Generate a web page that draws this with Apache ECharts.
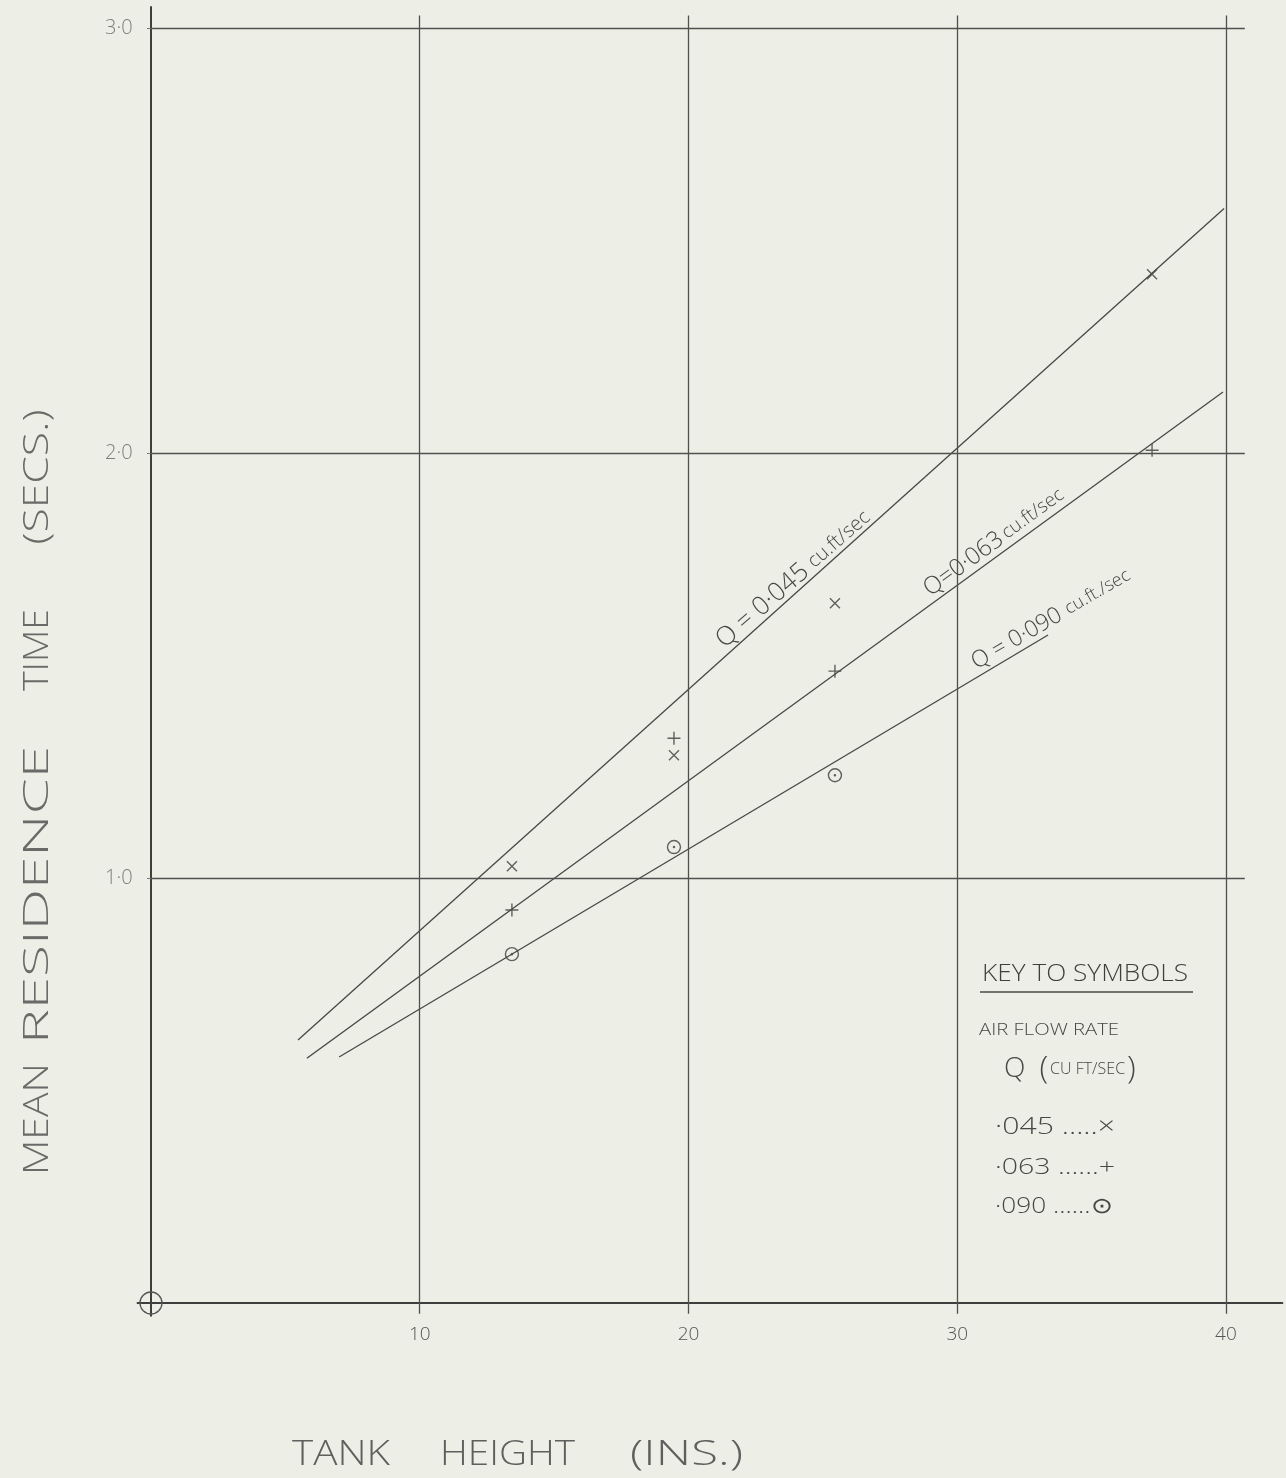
<!DOCTYPE html>
<html><head><meta charset="utf-8">
<script src="https://cdn.jsdelivr.net/npm/echarts@6/dist/echarts.min.js"></script>
<style>html,body{margin:0;padding:0;background:#edefe6}#c{width:1286px;height:1478px}</style>
</head><body><div id="c"></div>
<script>
// ---- data ----
const xTicks = [10, 20, 30, 40];
const yTicks = [1, 2, 3];
// measured points, tank height (ins) vs mean residence time (secs)
const q045 = [[13.43, 1.028], [19.46, 1.289], [25.45, 1.647], [37.25, 2.421]];
const q063 = [[13.43, 0.925], [19.46, 1.329], [25.45, 1.487], [37.25, 2.007]];
const q090 = [[13.43, 0.821], [19.46, 1.073], [25.45, 1.242]];
// hand-fitted straight lines (end points)
const fit045 = [[5.47, 0.619], [39.93, 2.576]];
const fit063 = [[5.80, 0.576], [39.89, 2.144]];
const fit090 = [[7.0, 0.579], [33.38, 1.572]];
const keyRows = ['·045 .....×', '·063 ......+', '·090 ......⊙'];
const yTitleWords = ['MEAN', 'RESIDENCE', 'TIME', '(SECS.)'];
const xTitleWords = ['TANK', 'HEIGHT', '(INS.)'];

const INK = '#474745';
const FF = '"Open Sans", "DejaVu Sans", sans-serif';
const LIGHT = '300 ';

const mctx = document.createElement('canvas').getContext('2d');
function stretch(text, font, target) { mctx.font = font; return target / mctx.measureText(text).width; }

const chart = echarts.init(document.getElementById('c'), null, {renderer: 'canvas'});

const grid = {left: 137.56, right: 3.6, top: 7, bottom: 162.25};
const gx = [];
xTicks.forEach(v => gx.push([{coord: [v, -0.025]}, {coord: [v, 3.03]}]));
yTicks.forEach(v => gx.push([{coord: [0, v]}, {coord: [40.7, v]}]));

const SYM_X = 'path://M0,0L10,10M10,0L0,10';
const SYM_P = 'path://M5,0L5,10M0,5L10,5';
const SYM_O = 'path://M0,5A5,5 0 1,1 10,5A5,5 0 1,1 0,5ZM4.55,5A0.45,0.45 0 1,1 5.45,5A0.45,0.45 0 1,1 4.55,5Z';
const SYM_ORIGIN = 'path://M0,10A10,10 0 1,1 20,10A10,10 0 1,1 0,10Z';

function lineLabel(coord, rot, txt, a, b) {
  return {
    coord: coord,
    symbol: 'circle', symbolSize: 1,
    itemStyle: {color: 'transparent'},
    label: {
      show: true, position: 'inside', rotate: rot,
      formatter: txt,
      rich: {
        a: {fontSize: a, fontFamily: FF, fontWeight: 300, color: INK},
        b: {fontSize: b, fontFamily: FF, fontWeight: 300, color: INK}
      }
    }
  };
}

const markerStyle = {color: 'none', borderColor: '#3c3c3a', borderWidth: 1.4};

// axis title pieces, stretched to the hand-lettered lengths
const yT = [[1119, 112], [895, 298], [650, 82], [477, 135]];
const xT = [[292, 98], [440, 135], [630, 113]];
const titleFont = LIGHT + '35px ' + FF;
const titleGraphics = [];
yTitleWords.forEach((w, i) => titleGraphics.push({
  type: 'text', x: 38, y: yT[i][0], rotation: Math.PI / 2, scaleX: stretch(w, titleFont, yT[i][1]), silent: true,
  style: {text: w, font: titleFont, fill: '#6a6a68', textAlign: 'center', textVerticalAlign: 'middle'}
}));
xTitleWords.forEach((w, i) => titleGraphics.push({
  type: 'text', x: xT[i][0], y: 1455, scaleX: stretch(w, titleFont, xT[i][1]), silent: true,
  style: {text: w, font: titleFont, fill: '#5f5f5d', textAlign: 'left', textVerticalAlign: 'middle'}
}));

const option = {
  backgroundColor: '#edefe6',
  animation: false,
  grid: grid,
  xAxis: {
    type: 'value', min: -0.5, max: 42.1,
    axisLine: {show: true, onZero: true, lineStyle: {color: '#3e3e3c', width: 2}},
    axisTick: {show: false},
    splitLine: {show: false},
    axisLabel: {
      customValues: xTicks, margin: 9, fontSize: 19, fontFamily: FF, fontWeight: 300, color: '#555',
      formatter: v => String(v)
    }
  },
  yAxis: {
    type: 'value', min: -0.03, max: 3.05,
    axisLine: {show: true, onZero: true, lineStyle: {color: '#3e3e3c', width: 2}},
    axisTick: {show: true, customValues: yTicks, length: 4, lineStyle: {color: '#777'}},
    splitLine: {show: false},
    axisLabel: {
      customValues: yTicks, margin: 5, fontSize: 20, fontFamily: FF, fontWeight: 300, color: '#7e7e7c',
      formatter: v => v.toFixed(1).replace('.', '·')
    }
  },
  series: [
    {
      type: 'line', data: [], silent: true,
      markLine: {
        silent: true, symbol: 'none', animation: false,
        label: {show: false},
        lineStyle: {type: 'solid', color: '#505050', width: 1.3},
        data: gx
      },
      markPoint: {
        silent: true,
        data: [{coord: [0, 0], symbol: SYM_ORIGIN, symbolSize: 22, symbolKeepAspect: true,
          itemStyle: {color: 'none', borderColor: '#555', borderWidth: 1.3}, label: {show: false}}]
      }
    },
    {
      name: 'fit 0.045', type: 'line', data: fit045, showSymbol: false, silent: true,
      lineStyle: {color: INK, width: 1.3},
      markPoint: {silent: true, data: [lineLabel([23.91, 1.704], 41, '{a|Q = 0·045}  {b|cu.ft/sec}', 26, 20)]}
    },
    {
      name: 'fit 0.063', type: 'line', data: fit063, showSymbol: false, silent: true,
      lineStyle: {color: INK, width: 1.3},
      markPoint: {silent: true, data: [lineLabel([31.37, 1.791], 36, '{a|Q=0·063} {b|cu.ft/sec}', 24, 19)]}
    },
    {
      name: 'fit 0.090', type: 'line', data: fit090, showSymbol: false, silent: true,
      lineStyle: {color: INK, width: 1.3},
      markPoint: {silent: true, data: [lineLabel([33.49, 1.610], 30, '{a|Q = 0·090}  {b|cu.ft./sec}', 23, 18)]}
    },
    {name: 'Q 0.045', type: 'scatter', data: q045, symbol: SYM_X, symbolSize: 10, symbolKeepAspect: true, itemStyle: markerStyle, silent: true},
    {name: 'Q 0.063', type: 'scatter', data: q063, symbol: SYM_P, symbolSize: 13, symbolKeepAspect: true, itemStyle: markerStyle, silent: true},
    {name: 'Q 0.090', type: 'scatter', data: q090, symbol: SYM_O, symbolSize: 13, symbolKeepAspect: true, itemStyle: markerStyle, silent: true}
  ],
  graphic: titleGraphics.concat([
    // key to symbols
    {type: 'text', x: 982, y: 974, silent: true,
      scaleX: stretch('KEY TO SYMBOLS', LIGHT + '24px ' + FF, 206),
      style: {text: 'KEY TO SYMBOLS', font: LIGHT + '24px ' + FF, fill: '#3f3f3d', textVerticalAlign: 'middle'}},
    {type: 'line', silent: true, shape: {x1: 980, y1: 992, x2: 1193, y2: 992}, style: {stroke: '#4a4a48', lineWidth: 1.6}},
    {type: 'text', x: 979, y: 1030, silent: true,
      scaleX: stretch('AIR FLOW RATE', LIGHT + '17px ' + FF, 140),
      style: {text: 'AIR FLOW RATE', font: LIGHT + '17px ' + FF, fill: INK, textVerticalAlign: 'middle'}},
    {type: 'text', x: 1004, y: 1069, silent: true,
      style: {text: '{q|Q}{p|(}{s|CU FT/SEC}{p|)}', textVerticalAlign: 'middle',
        rich: {q: {font: LIGHT + '28px ' + FF, fill: INK, padding: [0, 14, 0, 0]},
               p: {font: LIGHT + '32px ' + FF, fill: INK},
               s: {font: LIGHT + '16px ' + FF, fill: INK, padding: [0, 2, 0, 2]}}}},
    {type: 'text', x: 995, y: 1127, silent: true,
      scaleX: stretch(keyRows[0], LIGHT + '23px ' + FF, 120),
      style: {text: keyRows[0], font: LIGHT + '23px ' + FF, fill: INK, textVerticalAlign: 'middle'}},
    {type: 'text', x: 995, y: 1168, silent: true,
      scaleX: stretch(keyRows[1], LIGHT + '22px ' + FF, 120),
      style: {text: keyRows[1], font: LIGHT + '22px ' + FF, fill: INK, textVerticalAlign: 'middle'}},
    {type: 'text', x: 995, y: 1207, silent: true,
      scaleX: stretch(keyRows[2], LIGHT + '22px ' + FF, 117),
      style: {text: keyRows[2], font: LIGHT + '22px ' + FF, fill: INK, textVerticalAlign: 'middle'}}
  ])
};
chart.setOption(option);
</script>
</body></html>
